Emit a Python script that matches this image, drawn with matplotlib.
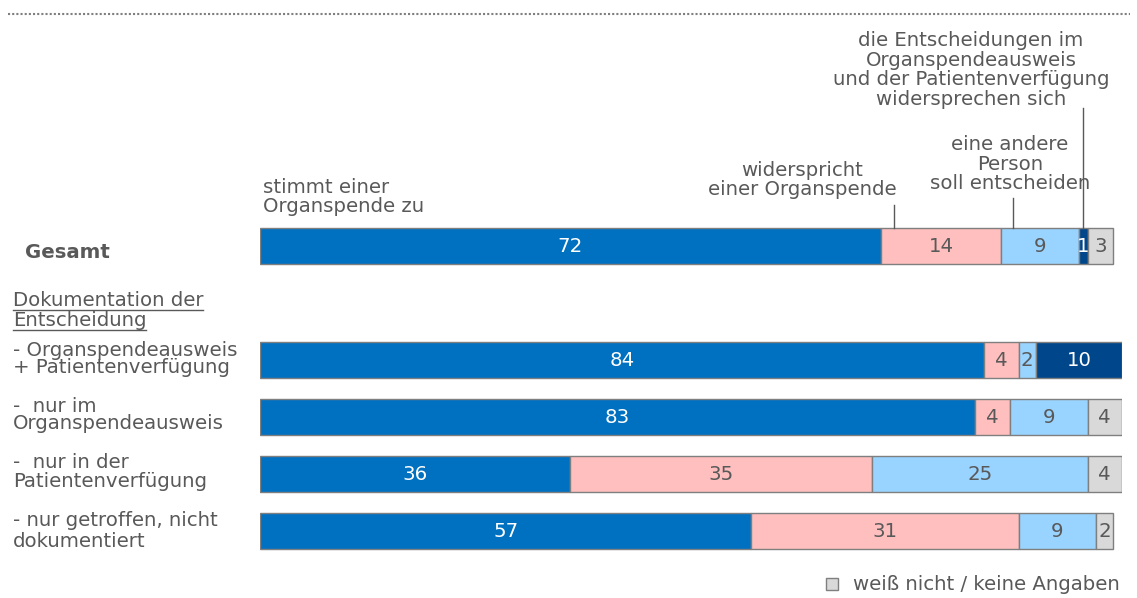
import matplotlib
matplotlib.use("Agg")
import matplotlib.pyplot as plt
from matplotlib.patches import Rectangle

plt.rcParams['font.family'] = ['DejaVu Sans']

categories = ["Gesamt",
              "- Organspendeausweis\n+ Patientenverfügung",
              "-  nur im\nOrganspendeausweis",
              "-  nur in der\nPatientenverfügung",
              "- nur getroffen, nicht\ndokumentiert"]
series_names = ["stimmt einer\nOrganspende zu",
                "widerspricht\neiner Organspende",
                "eine andere\nPerson\nsoll entscheiden",
                "die Entscheidungen im\nOrganspendeausweis\nund der Patientenverfügung\nwidersprechen sich",
                "weiß nicht / keine Angaben"]
zustimmung = [72, 84, 83, 36, 57]
widerspruch = [14, 4, 4, 35, 31]
andere_person = [9, 2, 9, 25, 9]
widerspruechlich = [1, 10, 0, 0, 0]
weiss_nicht = [3, 0, 4, 4, 2]
series = [zustimmung, widerspruch, andere_person, widerspruechlich, weiss_nicht]

colors = ["#0070C0", "#FFBFBF", "#99D3FF", "#00468B", "#D9D9D9"]
txt_colors = ["white", "#595959", "#595959", "white", "#595959"]
gray = "#595959"
FS = 14.2
LS = 1.06
row_ls = [1.0, 0.9, 0.9, 0.95, 1.12]

W, H = 1137, 598
fig = plt.figure(figsize=(W / 100, H / 100), dpi=100)
x0, x1 = 260, 1122
ax = fig.add_axes([x0 / W, 0, (x1 - x0) / W, 1])
ax.set_xlim(0, 100)
ax.set_ylim(H, 0)
ax.axis("off")

def px(xp):
    return (xp - x0) / (x1 - x0) * 100

y_centers = [245.5, 359.5, 416.5, 473.5, 530.5]
label_y = [253, 359, 415, 472, 531]
bar_h = 36

for i, yc in enumerate(y_centers):
    left = 0
    for s, vals in enumerate(series):
        v = vals[i]
        if v > 0:
            ax.barh(yc, v, left=left, height=bar_h, color=colors[s],
                    edgecolor="#7F7F7F", linewidth=1)
            ax.text(left + v / 2, yc + 1, str(v), ha="center", va="center",
                    fontsize=FS, color=txt_colors[s])
        left += v

# row labels
ax.text(px(25), label_y[0], categories[0], ha="left", va="center", fontsize=FS,
        color=gray, fontweight="bold")
for i in range(1, 5):
    ax.text(px(13), label_y[i], categories[i], ha="left", va="center",
            fontsize=FS, color=gray, linespacing=row_ls[i])

# section header with underline
fig.canvas.draw()
r = fig.canvas.get_renderer()
for line, yy in [("Dokumentation der", 300), ("Entscheidung", 320)]:
    t = ax.text(px(13), yy, line, ha="left", va="center", fontsize=FS, color=gray)
    bb = t.get_window_extent(renderer=r)
    inv = ax.transData.inverted()
    (xa, _), (xb, _) = inv.transform([(bb.x0, bb.y0), (bb.x1, bb.y0)])
    ax.plot([xa, xb], [yy + 10, yy + 10], color=gray, lw=1, clip_on=False)

# series annotations for Gesamt
g_top = y_centers[0] - bar_h / 2
cum = [0]
for vals in series:
    cum.append(cum[-1] + vals[0])

ax.text(px(263), 197, series_names[0], ha="left", va="center", fontsize=FS,
        color=gray, linespacing=LS)

def annot(s, frac, line_top):
    xm = cum[s] + frac * series[s][0]
    ax.plot([xm, xm], [line_top, g_top], color=gray, lw=1)

annot(1, 0.11, 205)
ax.text(px(802), 180, series_names[1], ha="center", va="center", fontsize=FS,
        color=gray, linespacing=LS)
annot(2, 0.15, 198)
ax.text(px(1010), 164, series_names[2], ha="center", va="center", fontsize=FS,
        color=gray, linespacing=LS)
annot(3, 0.5, 108)
ax.text(px(971), 70, series_names[3], ha="center", va="center", fontsize=FS,
        color=gray, linespacing=LS)

# top dotted line
ax.plot([px(8), px(1130)], [14, 14], color="#7F7F7F", lw=1.5,
        linestyle=(0, (1, 1)), clip_on=False)

# legend
ax.add_patch(Rectangle((px(826), 578), px(838) - px(826), 12, facecolor=colors[4],
                       edgecolor="#7F7F7F", lw=1, clip_on=False))
ax.text(px(853), 584, series_names[4], ha="left", va="center", fontsize=FS,
        color=gray)

fig.savefig("out.png", dpi=100)
